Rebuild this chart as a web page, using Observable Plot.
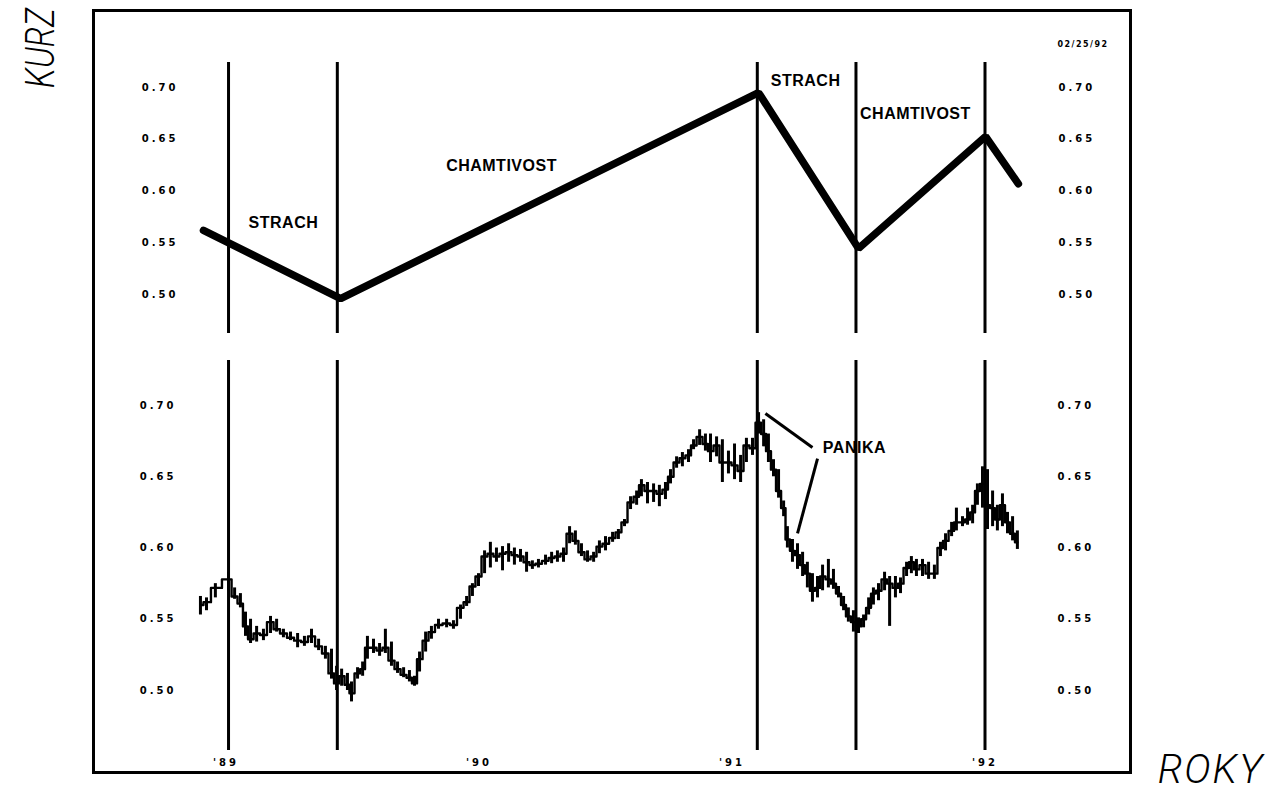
<!DOCTYPE html>
<html><head><meta charset="utf-8">
<script src="https://cdn.jsdelivr.net/npm/d3@7"></script>
<script src="https://cdn.jsdelivr.net/npm/@observablehq/plot@0.6"></script>
<style>
body{margin:0;background:#fff;}
#page{position:relative;width:1276px;height:792px;overflow:hidden;font-family:"Liberation Sans",Arial,sans-serif;color:#000;}
#frame{position:absolute;left:92px;top:9px;width:1034px;height:759px;border:3px solid #000;}
.plot{position:absolute;left:0;}
#kurz{position:absolute;left:41px;top:48px;transform:translate(-50%,-50%) rotate(-90deg) scaleX(0.82);font:italic 300 40px Roboto,sans-serif;line-height:1;white-space:nowrap;}
#roky{position:absolute;left:1211px;top:770px;transform:translate(-50%,-50%);font:italic 300 40px Roboto,sans-serif;letter-spacing:2px;line-height:1;white-space:nowrap;}
#stamp{position:absolute;left:1083px;top:44px;transform:translate(-50%,-50%);font:bold 8px "DejaVu Sans",sans-serif;letter-spacing:1.5px;white-space:nowrap;}
svg [aria-label$="tick label"] text{font:bold 10px "DejaVu Sans",sans-serif;letter-spacing:3px;}
svg [aria-label="text"] text{font-family:"Liberation Sans",Arial,sans-serif;font-weight:bold;letter-spacing:0.5px;}
</style></head><body>
<div id="page">
  <div id="frame"></div>
  <div id="topPanel" class="plot" style="top:0px"></div>
  <div id="bottomPanel" class="plot" style="top:345px"></div>
  <div id="kurz">KURZ</div>
  <div id="roky">ROKY</div>
  <div id="stamp">02/25/92</div>
</div>
<script>
// ---- data ----
const yTicks = [0.50, 0.55, 0.60, 0.65, 0.70];
const yearTicks = [1989, 1990, 1991, 1992];
// turning points (vertical dividers), decimal years
const phaseYears = [1989.01, 1989.44, 1991.10, 1991.49, 1992.00];
// top panel: simplified trend line
const trendYears = [1988.911, 1989.453, 1991.105, 1991.500, 1992.002, 1992.132];
const trendValues = [0.562, 0.496, 0.695, 0.5445, 0.6527, 0.607];
const topLabels = ["STRACH", "CHAMTIVOST", "STRACH", "CHAMTIVOST"];
const topLabelYears = [1989.227, 1990.089, 1991.291, 1991.725];
const topLabelValues = [0.5696, 0.6246, 0.7068, 0.6749];
// bottom panel: price bars
const barYears = [1988.899,1988.923,1988.958,1989.010,1989.034,1989.057,1989.077,1989.097,1989.121,1989.148,1989.176,1989.200,1989.227,1989.255,1989.283,1989.310,1989.338,1989.366,1989.393,1989.417,1989.437,1989.457,1989.480,1989.496,1989.520,1989.540,1989.559,1989.583,1989.607,1989.630,1989.654,1989.678,1989.702,1989.725,1989.745,1989.765,1989.789,1989.812,1989.840,1989.872,1989.899,1989.927,1989.951,1989.974,1989.998,1990.022,1990.045,1990.069,1990.093,1990.117,1990.140,1990.164,1990.188,1990.211,1990.235,1990.263,1990.287,1990.310,1990.334,1990.358,1990.381,1990.405,1990.429,1990.453,1990.476,1990.500,1990.528,1990.551,1990.575,1990.599,1990.623,1990.642,1990.666,1990.690,1990.713,1990.737,1990.757,1990.781,1990.804,1990.828,1990.848,1990.872,1990.895,1990.915,1990.939,1990.962,1990.986,1991.010,1991.034,1991.057,1991.081,1991.105,1991.125,1991.144,1991.164,1991.184,1991.204,1991.219,1991.239,1991.259,1991.279,1991.298,1991.318,1991.338,1991.358,1991.381,1991.401,1991.421,1991.441,1991.460,1991.480,1991.500,1991.520,1991.540,1991.559,1991.579,1991.603,1991.623,1991.646,1991.666,1991.690,1991.709,1991.729,1991.753,1991.777,1991.800,1991.824,1991.844,1991.868,1991.887,1991.911,1991.931,1991.951,1991.970,1991.990,1992.010,1992.030,1992.049,1992.069,1992.089,1992.109,1992.128];
const barLows = [.553,.556,.565,.570,.564,.558,.538,.533,.534,.535,.540,.541,.537,.535,.530,.531,.533,.528,.522,.508,.500,.503,.500,.492,.508,.510,.522,.526,.524,.526,.517,.512,.509,.506,.503,.513,.527,.536,.543,.544,.543,.550,.559,.566,.573,.582,.586,.590,.584,.590,.588,.590,.583,.585,.586,.588,.589,.590,.590,.603,.602,.594,.590,.590,.596,.598,.604,.606,.615,.627,.630,.636,.631,.632,.629,.634,.645,.656,.657,.660,.669,.672,.668,.660,.664,.646,.652,.648,.646,.660,.665,.680,.671,.660,.650,.635,.622,.600,.590,.585,.580,.572,.562,.565,.570,.572,.571,.565,.556,.548,.541,.540,.544,.553,.560,.563,.570,.545,.565,.568,.580,.582,.580,.580,.578,.578,.594,.598,.608,.612,.615,.616,.617,.630,.628,.613,.615,.612,.615,.610,.605,.599];
const barHighs = [.566,.565,.575,.583,.572,.568,.555,.550,.545,.543,.552,.550,.543,.541,.540,.538,.543,.536,.531,.529,.517,.515,.512,.506,.516,.520,.538,.536,.533,.543,.534,.520,.516,.514,.510,.527,.541,.545,.550,.550,.549,.560,.566,.575,.582,.598,.604,.600,.601,.603,.600,.599,.597,.591,.592,.595,.597,.598,.600,.615,.612,.603,.598,.597,.605,.608,.611,.613,.620,.636,.640,.648,.646,.645,.644,.646,.655,.664,.667,.669,.676,.683,.680,.680,.678,.676,.668,.673,.665,.677,.677,.695,.690,.680,.662,.655,.633,.615,.606,.603,.597,.590,.582,.580,.588,.592,.585,.573,.566,.558,.556,.551,.553,.565,.572,.575,.583,.580,.580,.579,.590,.594,.592,.592,.590,.588,.604,.610,.618,.628,.622,.628,.630,.645,.657,.655,.640,.630,.638,.625,.622,.612];
const barCloses = [.560,.562,.572,.578,.566,.561,.545,.536,.540,.539,.548,.543,.540,.537,.535,.534,.538,.531,.526,.512,.505,.510,.504,.498,.512,.515,.530,.530,.528,.530,.521,.515,.511,.509,.505,.522,.535,.541,.546,.547,.546,.558,.562,.573,.580,.594,.596,.594,.596,.597,.595,.594,.590,.588,.589,.591,.593,.594,.596,.610,.605,.597,.592,.594,.601,.603,.607,.611,.618,.632,.636,.644,.640,.640,.638,.641,.650,.660,.663,.665,.672,.678,.673,.668,.672,.660,.660,.658,.654,.672,.670,.688,.680,.668,.655,.640,.628,.606,.598,.595,.588,.582,.570,.572,.580,.578,.575,.568,.560,.552,.548,.545,.550,.558,.568,.570,.578,.575,.572,.575,.586,.590,.585,.588,.582,.582,.600,.605,.612,.618,.618,.620,.625,.640,.645,.630,.628,.620,.630,.618,.610,.604];
const panicLabel = ["PANIKA"];
const panicLabelYear = [1991.484];
const panicLabelValue = [0.6705];
// leader lines: from (year1,value1) to (year2,value2)
const panicFromYears = [1991.132, 1991.338];
const panicFromValues = [0.6944, 0.6628];
const panicToYears = [1991.318, 1991.259];
const panicToValues = [0.6705, 0.6102];

// ---- tables ----
const trend = trendYears.map((t, i) => ({t, v: trendValues[i]}));
const bars = barYears.map((t, i) => ({t, lo: barLows[i], hi: barHighs[i], c: barCloses[i]}));
const topAnn = topLabels.map((s, i) => ({s, t: topLabelYears[i], v: topLabelValues[i]}));
const panicAnn = panicLabel.map((s, i) => ({s, t: panicLabelYear[i], v: panicLabelValue[i]}));
const leaders = panicFromYears.map((t, i) => ({t1: t, v1: panicFromValues[i], t2: panicToYears[i], v2: panicToValues[i]}));

const fmt = d => d.toFixed(2);
const xDomain = [1988.5, 1992.5];
const baseStyle = {background: "transparent", color: "#000", overflow: "visible"};

const topChart = Plot.plot({
  width: 1276, height: 345,
  marginLeft: 99, marginRight: 165, marginTop: 62, marginBottom: 12,
  x: {domain: xDomain, axis: null},
  y: {domain: [0.4623, 0.7242]},
  style: baseStyle,
  marks: [
    Plot.ruleX(phaseYears, {stroke: "#000", strokeWidth: 3}),
    Plot.line(trend, {x: "t", y: "v", stroke: "#000", strokeWidth: 7.5, strokeLinejoin: "miter"}),
    Plot.axisY(yTicks, {anchor: "left", tickSize: 0, tickPadding: 0, dx: 79, tickFormat: fmt, label: null}),
    Plot.axisY(yTicks, {anchor: "right", tickSize: 0, tickPadding: 0, dx: -53, tickFormat: fmt, label: null}),
    Plot.text(topAnn, {x: "t", y: "v", text: "s", fontSize: 16, fill: "#000"})
  ]
});
document.getElementById("topPanel").append(topChart);

const bottomChart = Plot.plot({
  width: 1276, height: 430,
  marginLeft: 99, marginRight: 165, marginTop: 15, marginBottom: 25,
  x: {domain: xDomain},
  y: {domain: [0.4579, 0.7316]},
  style: baseStyle,
  marks: [
    Plot.ruleX(phaseYears, {stroke: "#000", strokeWidth: 3}),
    Plot.ruleX(bars, {x: "t", y1: "lo", y2: "hi", stroke: "#000", strokeWidth: 3}),
    Plot.line(bars, {x: "t", y: "c", curve: "step", stroke: "#000", strokeWidth: 2.4}),
    Plot.link(leaders, {x1: "t1", y1: "v1", x2: "t2", y2: "v2", stroke: "#000", strokeWidth: 3}),
    Plot.text(panicAnn, {x: "t", y: "v", text: "s", fontSize: 16, fill: "#000"}),
    Plot.axisY(yTicks, {anchor: "left", tickSize: 0, tickPadding: 0, dx: 77, tickFormat: fmt, label: null}),
    Plot.axisY(yTicks, {anchor: "right", tickSize: 0, tickPadding: 0, dx: -54, tickFormat: fmt, label: null}),
    Plot.axisX(yearTicks, {anchor: "bottom", tickSize: 0, tickPadding: 8, tickFormat: d => "'" + String(d).slice(2), label: null})
  ]
});
document.getElementById("bottomPanel").append(bottomChart);
</script>
</body></html>
